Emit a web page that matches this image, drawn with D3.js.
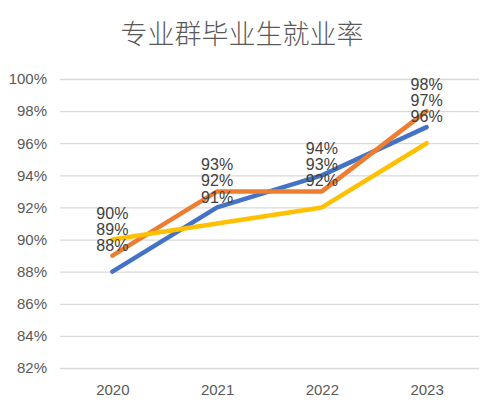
<!DOCTYPE html>
<html>
<head>
<meta charset="utf-8">
<script src="https://cdn.jsdelivr.net/npm/d3@7"></script>
<style>
  body { margin: 0; background: #fff; }
  svg text { font-family: "Liberation Sans", Arial, sans-serif; }
</style>
</head>
<body>
<div id="chart"></div>
<script>
var years = ["2020", "2021", "2022", "2023"];
var seriesA = [0.88, 0.92, 0.94, 0.97];
var seriesB = [0.89, 0.93, 0.93, 0.98];
var seriesC = [0.90, 0.91, 0.92, 0.96];
var yTicks = [0.82, 0.84, 0.86, 0.88, 0.90, 0.92, 0.94, 0.96, 0.98, 1.00];
var title = "专业群毕业生就业率";

var colors = ["#4472C4", "#ED7D31", "#FFC000"];
var allSeries = [seriesA, seriesB, seriesC];

var W = 487, H = 406;
var margin = {top: 79, right: 8, bottom: 38, left: 60},
    width = W - margin.left - margin.right,
    height = H - margin.top - margin.bottom;

var svg = d3.select("#chart")
  .append("svg")
    .attr("width", W)
    .attr("height", H);

svg.append("text")
  .attr("x", 242)
  .attr("y", 44)
  .attr("text-anchor", "middle")
  .style("font-family", "'Noto Sans CJK SC', sans-serif")
  .style("font-weight", 300)
  .style("font-size", "27px")
  .style("fill", "#595959")
  .text(title);

var g = svg.append("g")
  .attr("transform", "translate(" + margin.left + "," + margin.top + ")");

var x = d3.scalePoint()
  .domain(years)
  .range([0, width])
  .padding(0.5);

var y = d3.scaleLinear()
  .domain([0.82, 1.00])
  .range([height, 0]);

// gridlines
g.append("g")
  .call(d3.axisLeft(y).tickValues(yTicks).tickSize(-width).tickFormat(""))
  .call(function(a) { a.select(".domain").remove(); })
  .selectAll("line")
    .attr("stroke", "#D9D9D9")
    .attr("stroke-width", 1.3);

// y labels
g.append("g")
  .call(d3.axisLeft(y).tickValues(yTicks).tickSize(0).tickPadding(13).tickFormat(d3.format(".0%")))
  .call(function(a) { a.select(".domain").remove(); })
  .selectAll("text")
    .style("font-size", "15px")
    .style("fill", "#595959")
    .style("font-family", "'Liberation Sans', sans-serif");

// x labels
g.append("g")
  .attr("transform", "translate(0," + height + ")")
  .call(d3.axisBottom(x).tickSize(0).tickPadding(16))
  .call(function(a) { a.select(".domain").remove(); })
  .selectAll("text")
    .style("font-size", "15px")
    .style("fill", "#595959")
    .style("font-family", "'Liberation Sans', sans-serif");

var line = d3.line()
  .x(function(d, i) { return x(years[i]); })
  .y(function(d) { return y(d); });

allSeries.forEach(function(s, k) {
  g.append("path")
    .datum(s)
    .attr("d", line)
    .attr("fill", "none")
    .attr("stroke", colors[k])
    .attr("stroke-width", 4.5)
    .attr("stroke-linecap", "round")
    .attr("stroke-linejoin", "round");
});

allSeries.forEach(function(s, k) {
  g.selectAll(".lbl" + k)
    .data(s)
    .enter()
    .append("text")
      .attr("x", function(d, i) { return x(years[i]); })
      .attr("y", function(d) { return y(d) - 21; })
      .attr("text-anchor", "middle")
      .style("font-size", "16px")
      .style("fill", "#404040")
      .style("font-family", "'Liberation Sans', sans-serif")
      .text(function(d) { return d3.format(".0%")(d); });
});
</script>
</body>
</html>
